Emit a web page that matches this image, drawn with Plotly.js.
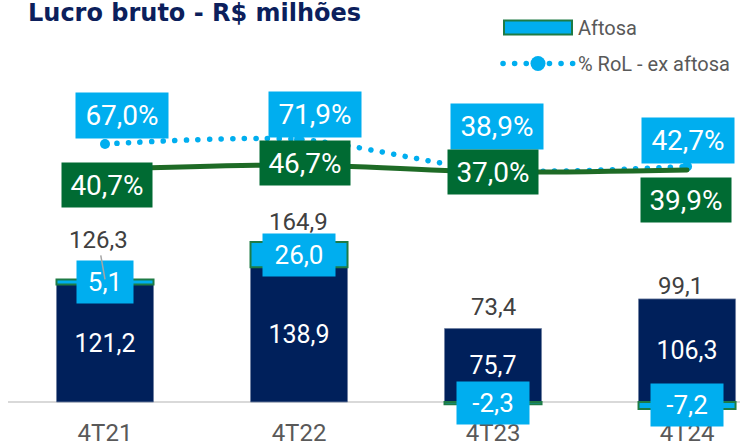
<!DOCTYPE html>
<html>
<head>
<meta charset="utf-8">
<script src="https://cdn.plot.ly/plotly-3.0.1.min.js"></script>
<style>
html,body{margin:0;padding:0;background:#fff;}
#chart{width:740px;height:448px;}
.scatterlayer path.js-line{stroke-linecap:round !important;}
.legend path.js-line{stroke-linecap:round !important;}
</style>
</head>
<body>
<div id="chart"></div>
<script>
// ---- data ----
var categories = ['4T21', '4T22', '4T23', '4T24'];
var exAftosa = [121.2, 138.9, 75.7, 106.3];
var aftosa = [5.1, 26.0, -2.3, -7.2];
var totals = [126.3, 164.9, 73.4, 99.1];
var rolExAftosa = [67.0, 71.9, 38.9, 42.7];
var rolTotal = [40.7, 46.7, 37.0, 39.9];

var NAVY = '#00205B', CYAN = '#00AEEF', GREEN = '#006B33', LINEGREEN = '#1E6B26', GRAY = '#595959';
var FONT = 'Roboto, "Noto Sans", sans-serif';

function fmt(v) { return v.toFixed(1).replace('.', ','); }

var data = [
  {
    type: 'bar', x: categories, y: exAftosa, name: 'ex aftosa', showlegend: false,
    marker: {color: NAVY, line: {color: '#6f7f9f', width: 0.8}},
    text: exAftosa.map(fmt), textposition: 'inside', insidetextanchor: 'middle',
    textangle: 0, textfont: {family: FONT, size: 25, color: '#ffffff'},
    hoverinfo: 'skip'
  },
  {
    type: 'bar', x: categories, y: aftosa, name: 'Aftosa', legendgroup: 'a',
    marker: {color: CYAN, line: {color: '#1E7B45', width: 2}},
    hoverinfo: 'skip'
  },
  {
    type: 'scatter', mode: 'lines', x: categories, y: rolTotal, yaxis: 'y3', showlegend: false,
    line: {color: LINEGREEN, width: 5, shape: 'spline', smoothing: 0.8},
    hoverinfo: 'skip'
  },
  {
    type: 'scatter', mode: 'lines+markers', x: categories, y: rolExAftosa, yaxis: 'y2', name: '% RoL - ex aftosa',
    legendgroup: 'b',
    line: {color: CYAN, width: 5.5, dash: '0.1px,11.5px', shape: 'spline', smoothing: 0.8},
    marker: {color: CYAN, size: 10},
    hoverinfo: 'skip'
  }
];

var annotations = [];
// cyan boxes for aftosa values
aftosa.forEach(function (v, i) {
  var t = fmt(v);
  annotations.push({
    x: categories[i], y: v >= 0 ? exAftosa[i] + v / 2 : v / 2, xref: 'x', yref: 'y',
    text: t, showarrow: false, bgcolor: CYAN, borderpad: 6,
    width: 16 * t.length - 4, height: 30,
    font: {family: FONT, size: 26, color: '#ffffff'}
  });
});
// totals
var totShiftX = [-7, -1, 0, -7], totShiftY = [39.5, 20, 24, 20];
totals.forEach(function (v, i) {
  var a = {
    x: categories[i], y: v, xref: 'x', yref: 'y', text: fmt(v),
    font: {family: FONT, size: 24, color: '#404040'}
  };
  if (i === 0) {
    a.showarrow = true; a.arrowhead = 0; a.arrowwidth = 1.5; a.arrowcolor = '#a6a6a6';
    a.ax = totShiftX[i]; a.ay = -totShiftY[i]; a.standoff = 0;
  } else {
    a.showarrow = false; a.xshift = totShiftX[i]; a.yshift = totShiftY[i];
  }
  annotations.push(a);
});
// % labels
var blueDX = [17, 16, 4, 1], blueDY = [28, 25, 44, 26.5];
rolExAftosa.forEach(function (v, i) {
  annotations.push({
    x: categories[i], y: v, xref: 'x', yref: 'y2', text: fmt(v) + '%', showarrow: false,
    xshift: blueDX[i], yshift: blueDY[i], bgcolor: CYAN, borderpad: 6, width: 80, height: 33,
    font: {family: FONT, size: 28, color: '#ffffff'}
  });
});
var greenDX = [2, 6, 0, -1], greenDY = [-16, 2, 0, -30];
rolTotal.forEach(function (v, i) {
  annotations.push({
    x: categories[i], y: v, xref: 'x', yref: 'y3', text: fmt(v) + '%', showarrow: false,
    xshift: greenDX[i], yshift: greenDY[i], bgcolor: GREEN, borderpad: 6, width: 78, height: 32,
    font: {family: FONT, size: 28, color: '#ffffff'}
  });
});

var layout = {
  width: 740, height: 448,
  margin: {l: 8, r: 0, t: 0, b: 30},
  paper_bgcolor: '#ffffff', plot_bgcolor: '#ffffff',
  barmode: 'relative', bargap: 0.5,
  title: {
    text: 'Lucro bruto - R$ milhões', x: 28 / 740, xanchor: 'left', xref: 'container',
    y: 1 - 13 / 448, yanchor: 'middle', yref: 'container',
    font: {family: '"DejaVu Sans", sans-serif', size: 24, weight: 'bold', color: '#0C1F5C'}
  },
  xaxis: {
    type: 'category', range: [-0.5, 3.273], showgrid: false, showline: false, ticks: '',
    tickfont: {family: FONT, size: 24, color: GRAY}, ticklabelstandoff: -2, fixedrange: true
  },
  yaxis: {
    range: [-16.5, 414.4], showgrid: false, showticklabels: false, ticks: '', showline: false,
    zeroline: true, zerolinecolor: '#d9d9d9', zerolinewidth: 2, fixedrange: true
  },
  yaxis2: {range: [-228.6, 222.3], overlaying: 'y', side: 'right', visible: false, fixedrange: true},
  yaxis3: {range: [-303.7, 275.2], overlaying: 'y', side: 'right', visible: false, fixedrange: true},
  showlegend: true,
  legend: {
    x: 490 / 732, xanchor: 'left', y: 1 - 8 / 418, yanchor: 'top',
    font: {family: FONT, size: 20, color: GRAY}, bgcolor: 'rgba(0,0,0,0)',
    itemwidth: 70, tracegroupgap: 7, traceorder: 'grouped'
  },
  annotations: annotations
};

Plotly.newPlot('chart', data, layout, {staticPlot: true, displayModeBar: false}).then(function (gd) {
  var trs = gd.querySelectorAll('.legend g.traces');
  if (trs.length > 0) {
    trs[0].querySelectorAll('.legendpoints path').forEach(function (p) {
      p.setAttribute('d', 'M34,7H-34V-7H34Z');
    });
  }
  if (trs.length > 1) {
    trs[1].querySelectorAll('path.scatterpts').forEach(function (p) {
      p.setAttribute('d', 'M7.5,0A7.5,7.5 0 1,1 0,-7.5A7.5,7.5 0 0,1 7.5,0Z');
    });
  }
});
</script>
</body>
</html>
